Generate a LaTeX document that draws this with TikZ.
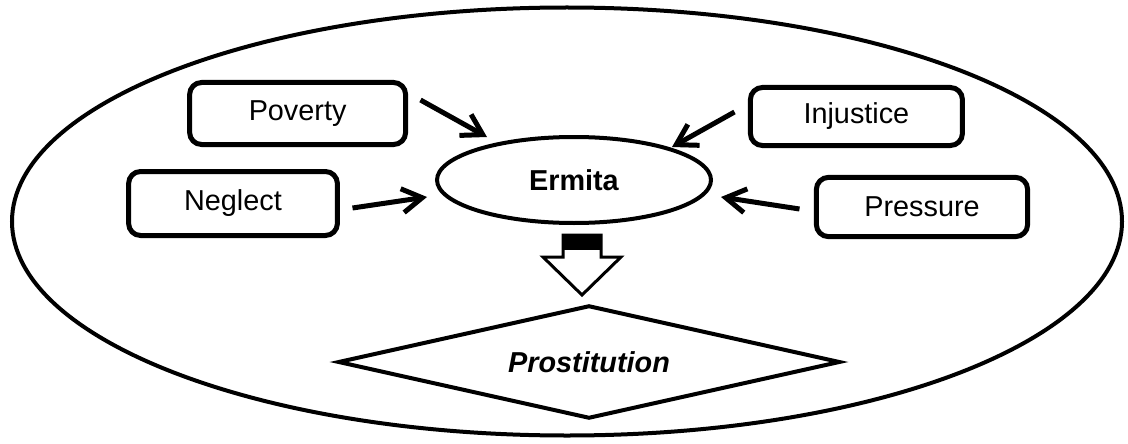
\documentclass[tikz,border=0pt]{standalone}
\usepackage{fontspec}
\setmainfont{Liberation Sans}
\usetikzlibrary{positioning,shapes.geometric,arrows.meta}

\begin{document}
\begin{tikzpicture}[font=\fontsize{20.5}{24}\selectfont]
            \tikzstyle{cause box}=[rectangle,rounded corners=0.3cm,draw,line width=0.125cm,inner sep=0]
            \tikzstyle{cause arrow}=[line width=0.125cm,-{Straight Barb[length=0.5cm,width=0.6cm]}]
            \tikzstyle{hollow arrow}=[draw,line width=0.075cm,line join=miter]
            \useasboundingbox (0,0) rectangle (28.2,11.075);
            % outer frame
            \node(world)[ellipse,draw,line width=0.1cm,inner sep=0,minimum width=27.75cm,minimum height=10.7cm] at (14.175,5.5375){};
            % centre and causes
            \node(erm)[ellipse,draw,line width=0.1cm,inner sep=0,minimum width=6.85cm,minimum height=2.15cm] at (14.35,6.575){\textbf{Ermita}};
            \node(pov)[cause box,minimum width=5.4cm,minimum height=1.55cm] at (7.44,8.2375){Poverty};
            \node(neg)[cause box,minimum width=5.22cm,minimum height=1.6cm] at (5.825,5.9875){Neglect};
            \node(inj)[cause box,minimum width=5.3cm,minimum height=1.45cm] at (21.41,8.1625){Injustice};
            \node(pre)[cause box,minimum width=5.28cm,minimum height=1.48cm] at (23.05,5.9){Pressure};
            \node(pro)[diamond,aspect=4.4,draw,line width=0.1cm,inner sep=0,minimum width=12.55cm,minimum height=2.83cm] at (14.725,2.025){\textbf{\textit{Prostitution}}};
            \draw[cause arrow] ([xshift=0.31cm,yshift=0.3375cm]pov.east) -- ([xshift=-2.175cm,yshift=1.075cm]erm.center);
            \draw[cause arrow] ([xshift=0.315cm,yshift=-0.1125cm]neg.east) -- ([xshift=-3.675cm,yshift=-0.425cm]erm.center);
            \draw[cause arrow] ([xshift=-0.335cm,yshift=0.1125cm]inj.west) -- ([xshift=2.45cm,yshift=0.825cm]erm.center);
            \draw[cause arrow] ([xshift=-0.36cm,yshift=-0.05cm]pre.west) -- ([xshift=3.675cm,yshift=-0.425cm]erm.center);
            % block arrow down to the diamond
            \coordinate(bt) at (14.55,5.2);
            \fill ([xshift=-0.475cm]bt) rectangle ([xshift=0.475cm,yshift=-0.375cm]bt);
            \draw[hollow arrow] (bt) ++(-0.475,0) -- ++(0,-0.55) -- ++(-0.5,0) -- ++(0.975,-0.95)
              -- ++(0.975,0.95) -- ++(-0.5,0) -- ++(0,0.55) -- cycle;
          \end{tikzpicture}
\end{document}
